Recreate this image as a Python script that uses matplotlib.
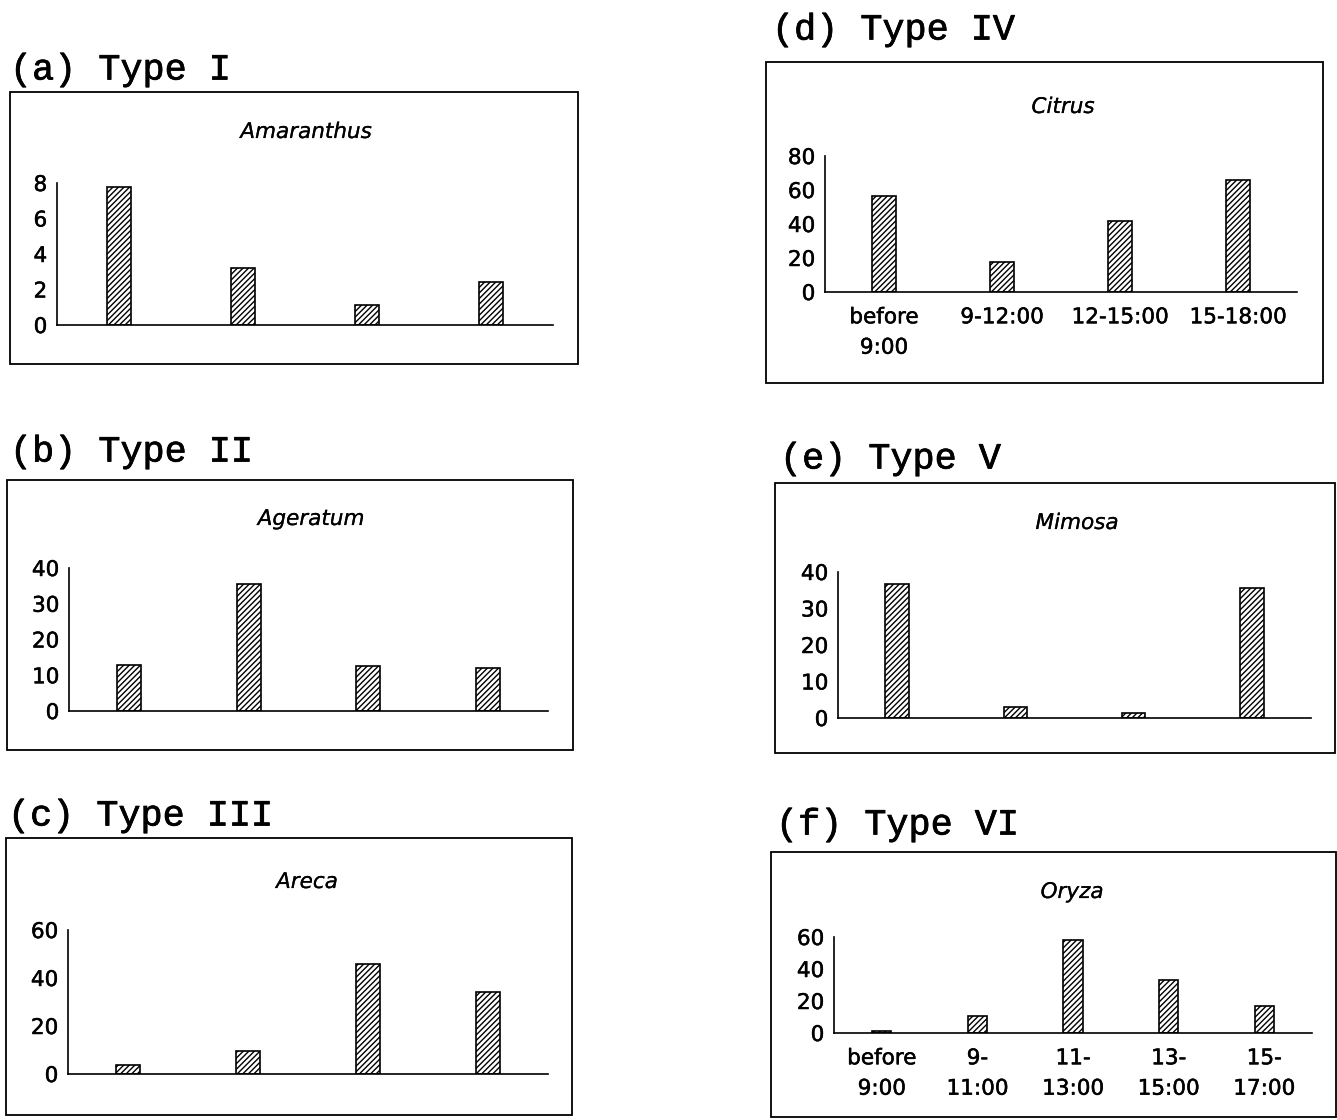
import matplotlib
matplotlib.use("Agg")
import matplotlib.pyplot as plt
import matplotlib.patheffects as pe
from matplotlib.patches import Rectangle
import numpy as np

W, H = 1337, 1120

# headings and species names
panel_labels = ["(a) Type I", "(b) Type II", "(c) Type III",
                "(d) Type IV", "(e) Type V", "(f) Type VI"]
species = ["Amaranthus", "Ageratum", "Areca", "Citrus", "Mimosa", "Oryza"]

# bar heights
amaranthus = [7.8, 3.2, 1.1, 2.4]
ageratum = [12.8, 35.4, 12.6, 11.9]
areca = [3.9, 9.5, 46, 34]
citrus = [56.6, 17.8, 41.5, 66]
mimosa = [36.8, 3.0, 1.5, 35.7]
oryza = [1, 10.5, 58, 33, 17]

# y ticks of each panel
yticks_a = [0, 2, 4, 6, 8]
yticks_b = [0, 10, 20, 30, 40]
yticks_c = [0, 20, 40, 60]
yticks_d = [0, 20, 40, 60, 80]
yticks_e = [0, 10, 20, 30, 40]
yticks_f = [0, 20, 40, 60]

# time slots, printed only under (d) and (f)
times4 = ["before\n9:00", "9-12:00", "12-15:00", "15-18:00"]
times5 = ["before\n9:00", "9-\n11:00", "11-\n13:00", "13-\n15:00", "15-\n17:00"]

values = [amaranthus, ageratum, areca, citrus, mimosa, oryza]
yticks = [yticks_a, yticks_b, yticks_c, yticks_d, yticks_e, yticks_f]
xlabels = [None, None, None, times4, None, times5]

# layout in pixels (x from left, y from top)
boxes = [(10, 92, 578, 364), (7, 480, 573, 750), (6, 838, 572, 1115),
         (766, 62, 1323, 383), (775, 483, 1335, 753), (771, 852, 1336, 1117)]
heads = [(10, 70), (10, 452), (8, 816), (772, 30), (780, 459), (776, 825)]
axpos = [(57, 183, 553, 325), (69, 568, 548, 711), (68, 930, 548, 1074),
         (825, 156, 1297, 292), (838, 572, 1311, 718), (834, 937, 1312, 1033)]
sppos = [(306, 132), (311, 519), (307, 882), (1063, 107), (1077, 523), (1072, 892)]

plt.rcParams['hatch.linewidth'] = 1.0
fig = plt.figure(figsize=(W / 100, H / 100), dpi=100)

thin = [pe.withStroke(linewidth=0.15, foreground='black')]
thick = [pe.withStroke(linewidth=0.35, foreground='black')]
heavy = [pe.withStroke(linewidth=0.55, foreground='black')]

for i in range(6):
    l, t, r, b = boxes[i]
    fig.add_artist(Rectangle((l / W, 1 - b / H), (r - l) / W, (b - t) / H,
                             transform=fig.transFigure, fill=False,
                             lw=1.3, ec='black'))
    hx, hy = heads[i]
    fig.text(hx / W, 1 - hy / H, panel_labels[i], family='Liberation Mono',
             fontsize=26.5, ha='left', va='center', path_effects=heavy)
    sx, sy = sppos[i]
    fig.text(sx / W, 1 - sy / H, species[i], style='italic',
             fontsize=15.5, ha='center', va='center', path_effects=thin)

    l, t, r, b = axpos[i]
    ax = fig.add_axes([l / W, 1 - b / H, (r - l) / W, (b - t) / H])
    ax.patch.set_alpha(0)
    vals = values[i]
    x = np.arange(len(vals))
    ax.bar(x, vals, width=0.2, color='white', edgecolor='black',
           hatch='//////', lw=1.2)
    ax.set_xlim(-0.5, len(vals) - 0.5)
    ax.set_ylim(0, yticks[i][-1])
    ax.set_yticks(yticks[i])
    for s in ['top', 'right']:
        ax.spines[s].set_visible(False)
    for s in ['left', 'bottom']:
        ax.spines[s].set_linewidth(1.2)
    ax.tick_params(axis='y', length=0, pad=7, labelsize=15.5)
    if xlabels[i] is not None:
        ax.set_xticks(x, xlabels[i], linespacing=1.65)
        ax.tick_params(axis='x', length=0, pad=11, labelsize=15.5)
    else:
        ax.set_xticks([])
    for lab in ax.get_xticklabels() + ax.get_yticklabels():
        lab.set_path_effects(thick)

plt.savefig('out.png', dpi=100)
